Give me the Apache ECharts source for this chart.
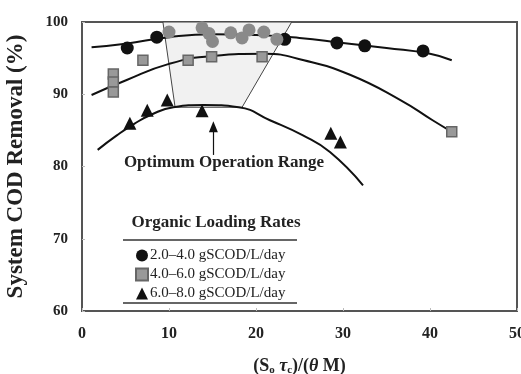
<!DOCTYPE html>
<html>
<head>
<meta charset="utf-8">
<script src="https://cdn.jsdelivr.net/npm/echarts@6/dist/echarts.min.js"></script>
<style>
  html, body { margin: 0; padding: 0; background: #fff; }
  #chart { width: 521px; height: 374px; }
</style>
</head>
<body>
<div id="chart"></div>
<script>
// x ticks and y ticks
var xTicks = [0, 10, 20, 30, 40, 50]
var yTicks = [60, 70, 80, 90, 100]

// 2.0-4.0 gSCOD/L/day (black circles, gray ones inside the optimum range)
var circlePts = [[5.2, 96.4], [8.6, 97.9], [23.3, 97.6], [29.3, 97.1], [32.5, 96.7], [39.2, 96.0]]
var circleRangePts = [[10.0, 98.6], [13.8, 99.2], [14.6, 98.4], [15.0, 97.3], [17.1, 98.5],
    [18.4, 97.8], [19.2, 98.9], [20.9, 98.6], [22.4, 97.6]]
var circleCurve = [[1.1, 96.5], [5, 97.0], [10, 97.9], [15, 98.3], [20, 98.2], [25, 97.8],
    [30, 97.1], [35, 96.4], [40, 95.6], [42.5, 94.7]]

// 4.0-6.0 gSCOD/L/day
var squarePts = [[3.6, 92.8], [3.6, 91.7], [3.6, 90.3], [7.0, 94.7], [12.2, 94.7],
    [14.9, 95.2], [20.7, 95.2], [42.5, 84.8]]
var squareCurve = [[1.1, 89.9], [5, 91.9], [10, 94.2], [15, 95.3], [21, 95.6], [25.5, 94.7],
    [30.8, 92.7], [36.6, 89.2], [40.3, 86.4], [42.5, 84.8]]

// 6.0-8.0 gSCOD/L/day
var trianglePts = [[5.5, 86.0], [7.5, 87.8], [9.8, 89.2], [13.8, 87.7], [28.6, 84.6], [29.7, 83.4]]
var triangleCurve = [[1.8, 82.3], [4, 84.3], [6, 85.9], [8, 87.2], [10.5, 88.2], [14, 88.5],
    [18, 88.2], [21.6, 86.4], [25.4, 84.3], [28.5, 82.0], [32.3, 77.4]]

// optimum operation range
var rangeX = [9.3, 10.7, 18.4, 24.1]
var rangeY = [100, 88.2, 88.2, 100]
var arrowFrom = [15.1, 81.6]
var arrowTo = [15.1, 85.5]

var legendNames = ['2.0\u20134.0 gSCOD/L/day', '4.0\u20136.0 gSCOD/L/day', '6.0\u20138.0 gSCOD/L/day']

var serif = '"Liberation Serif", "DejaVu Serif", serif'

var chart = echarts.init(document.getElementById('chart'))

var rangeData = rangeX.map(function (x, i) { return [x, rangeY[i]] })

var option = {
    animation: false,
    grid: {
        left: 82, right: 4, top: 22, bottom: 63,
        outerBoundsMode: 'none',
        show: true, borderColor: '#555', borderWidth: 2
    },
    legend: {
        data: legendNames,
        orient: 'vertical',
        left: 130, top: 243,
        itemWidth: 12, itemHeight: 12, itemGap: 4,
        textStyle: { fontFamily: serif, fontSize: 15, color: '#222', padding: [0, 0, 0, -3] }
    },
    xAxis: {
        type: 'value', min: 0, max: 50, interval: 10,
        axisLine: { lineStyle: { color: '#555', width: 2 } },
        axisTick: { show: true, inside: true, length: 3, lineStyle: { color: '#bbb' } },
        splitLine: { show: false },
        axisLabel: {
            fontFamily: serif, fontWeight: 'bold', fontSize: 16, color: '#222', margin: 15,
            formatter: function (v) { return xTicks.indexOf(v) >= 0 ? v : '' }
        },
        name: '{a|(S}{s|o}{a| }{i|\u03c4}{s|c}{a|)/(}{i|\u03b8}{a| M)}',
        nameLocation: 'middle', nameGap: 46,
        nameTextStyle: {
            rich: {
                a: { fontFamily: serif, fontWeight: 'bold', fontSize: 18, color: '#222' },
                i: { fontFamily: serif, fontWeight: 'bold', fontStyle: 'italic', fontSize: 18, color: '#222' },
                s: { fontFamily: serif, fontWeight: 'bold', fontSize: 11, color: '#222', padding: [8, 0, 0, 0] }
            }
        }
    },
    yAxis: {
        type: 'value', min: 60, max: 100, interval: 10,
        axisLine: { show: true, lineStyle: { color: '#555', width: 2 } },
        axisTick: { show: true, inside: true, length: 3, lineStyle: { color: '#bbb' } },
        splitLine: { show: false },
        axisLabel: {
            fontFamily: serif, fontWeight: 'bold', fontSize: 15, color: '#222', margin: 14,
            formatter: function (v) { return yTicks.indexOf(v) >= 0 ? v : '' }
        },
        name: 'System COD Removal (%)',
        nameLocation: 'middle', nameGap: 54,
        nameTextStyle: { fontFamily: serif, fontWeight: 'bold', fontSize: 23, color: '#222' }
    },
    graphic: [
        {
            type: 'text', position: [224, 163],
            style: {
                text: 'Optimum Operation Range', x: 0, y: 0, align: 'center', verticalAlign: 'middle',
                font: 'bold 17px ' + serif, fill: '#222'
            },
            z: 100
        },
        {
            type: 'text', position: [216, 223],
            style: {
                text: 'Organic Loading Rates', x: 0, y: 0, align: 'center', verticalAlign: 'middle',
                font: 'bold 17px ' + serif, fill: '#222'
            },
            z: 100
        },
        {
            type: 'line', shape: { x1: 123, y1: 240, x2: 297, y2: 240 },
            style: { stroke: '#333', lineWidth: 1.5 }, z: 100
        },
        {
            type: 'line', shape: { x1: 123, y1: 303, x2: 297, y2: 303 },
            style: { stroke: '#333', lineWidth: 1.5 }, z: 100
        }
    ],
    series: [
        {
            type: 'custom',
            name: 'range',
            z: 1,
            data: rangeData,
            renderItem: function (params, api) {
                if (params.dataIndex > 0) return
                var pts = rangeData.map(function (d) { return api.coord(d) })
                return {
                    type: 'polygon',
                    shape: { points: pts },
                    style: { fill: '#f1f1f1', stroke: '#444', lineWidth: 1 }
                }
            },
            encode: { x: 0, y: 1 },
            silent: true
        },
        {
            type: 'line', data: circleCurve, smooth: true, symbol: 'none', z: 3,
            lineStyle: { color: '#111', width: 2 }
        },
        {
            type: 'line', data: squareCurve, smooth: true, symbol: 'none', z: 3,
            lineStyle: { color: '#111', width: 2 }
        },
        {
            type: 'line', data: triangleCurve, smooth: true, symbol: 'none', z: 3,
            lineStyle: { color: '#111', width: 2 },
            markLine: {
                silent: true,
                symbolSize: [9, 11],
                lineStyle: { color: '#111', width: 1.2, type: 'solid' },
                label: { show: false },
                data: [[
                    { coord: arrowFrom, symbol: 'none' },
                    { coord: arrowTo, symbol: 'triangle' }
                ]]
            }
        },
        {
            type: 'scatter', name: legendNames[0], data: circlePts, symbol: 'circle', symbolSize: 13, z: 5,
            itemStyle: { color: '#111', opacity: 1 }
        },
        {
            type: 'scatter', name: 'circles in range', data: circleRangePts, symbol: 'circle', symbolSize: 13, z: 5,
            itemStyle: { color: '#8a8a8a', opacity: 1 }
        },
        {
            type: 'scatter', name: legendNames[1], data: squarePts, symbol: 'rect', symbolSize: 10, z: 5,
            itemStyle: { color: '#999', borderColor: '#666', borderWidth: 1.5, opacity: 1 }
        },
        {
            type: 'scatter', name: legendNames[2], data: trianglePts, symbol: 'triangle', symbolSize: 13, z: 5,
            itemStyle: { color: '#111', opacity: 1 }
        }
    ]
}

chart.setOption(option)
</script>
</body>
</html>
